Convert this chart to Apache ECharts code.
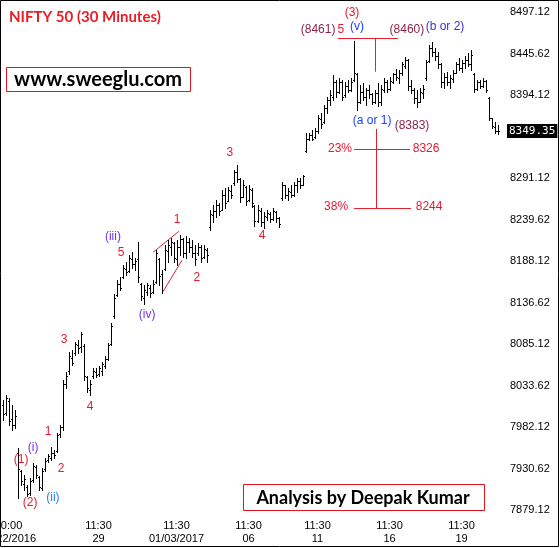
<!DOCTYPE html>
<html>
<head>
<meta charset="utf-8">
<script src="https://cdn.jsdelivr.net/npm/echarts@6/dist/echarts.min.js"></script>
<style>
html, body { margin: 0; padding: 0; background: #fff; }
#chartDiv { width: 560px; height: 548px; }
</style>
</head>
<body>
<div id="chartDiv"></div>
<script>
// 30 minute bars: [open, high, low, close]
const bars = [
    [8010, 8016, 7991, 7998], [7999, 8022, 7997, 8018], [8015, 8018, 7985, 7990], [7992, 8009, 7978, 7984],
    [7985, 8003, 7981, 7996], [7950, 7956, 7894, 7930], [7928, 7929, 7910, 7915], [7912, 7922, 7904, 7918],
    [7908, 7910, 7896, 7899], [7900, 7919, 7898, 7915], [7916, 7937, 7914, 7934], [7932, 7935, 7919, 7922],
    [7920, 7921, 7904, 7908], [7906, 7931, 7904, 7928], [7930, 7944, 7928, 7940], [7941, 7948, 7939, 7946],
    [7944, 7957, 7941, 7950], [7950, 7954, 7944, 7947], [7952, 7975, 7951, 7972], [7973, 7985, 7970, 7982],
    [7982, 8040, 7978, 8035], [8036, 8050, 8031, 8045], [8052, 8075, 8048, 8070], [8068, 8078, 8059, 8062],
    [8074, 8088, 8072, 8085], [8084, 8090, 8074, 8080], [8082, 8100, 8075, 8098], [8083, 8085, 8040, 8045],
    [8044, 8046, 8025, 8030], [8028, 8040, 8022, 8035], [8045, 8055, 8043, 8052], [8050, 8055, 8044, 8047],
    [8048, 8058, 8046, 8055], [8052, 8063, 8047, 8060], [8058, 8070, 8055, 8066], [8066, 8086, 8065, 8084],
    [8085, 8111, 8084, 8108], [8120, 8147, 8118, 8142], [8146, 8164, 8145, 8160], [8160, 8168, 8152, 8155],
    [8168, 8183, 8167, 8180], [8178, 8187, 8171, 8174], [8176, 8196, 8174, 8192], [8190, 8199, 8180, 8185],
    [8185, 8192, 8177, 8188], [8190, 8212, 8162, 8168], [8160, 8161, 8140, 8145], [8142, 8158, 8135, 8152],
    [8150, 8161, 8146, 8158], [8155, 8158, 8143, 8148], [8150, 8164, 8149, 8160], [8162, 8202, 8161, 8198],
    [8190, 8192, 8158, 8170], [8172, 8177, 8149, 8152], [8178, 8208, 8177, 8202], [8200, 8214, 8187, 8208],
    [8206, 8217, 8196, 8212], [8210, 8212, 8187, 8192], [8190, 8214, 8183, 8205], [8205, 8220, 8196, 8215],
    [8215, 8217, 8193, 8198], [8198, 8219, 8192, 8212], [8212, 8217, 8199, 8205], [8205, 8214, 8193, 8198],
    [8198, 8208, 8183, 8190], [8198, 8211, 8196, 8206], [8205, 8208, 8187, 8192], [8193, 8208, 8192, 8203],
    [8202, 8204, 8187, 8195], [8230, 8251, 8227, 8246], [8245, 8257, 8236, 8250], [8250, 8264, 8243, 8258],
    [8257, 8260, 8245, 8250], [8252, 8276, 8251, 8270], [8270, 8279, 8254, 8260], [8262, 8280, 8262, 8276],
    [8275, 8283, 8266, 8270], [8285, 8301, 8283, 8298], [8298, 8307, 8286, 8290], [8290, 8291, 8261, 8268],
    [8268, 8289, 8267, 8282], [8280, 8281, 8257, 8262], [8264, 8283, 8262, 8278], [8276, 8279, 8255, 8260],
    [8256, 8258, 8232, 8238], [8238, 8257, 8236, 8252], [8250, 8254, 8232, 8236], [8236, 8249, 8229, 8244],
    [8243, 8251, 8239, 8248], [8247, 8249, 8236, 8240], [8240, 8254, 8239, 8250], [8249, 8250, 8236, 8242],
    [8242, 8243, 8230, 8234], [8266, 8286, 8264, 8282], [8282, 8283, 8266, 8270], [8270, 8279, 8264, 8275],
    [8274, 8283, 8267, 8270], [8270, 8286, 8269, 8283], [8283, 8291, 8274, 8288], [8288, 8291, 8279, 8282],
    [8283, 8295, 8282, 8293], [8325, 8347, 8323, 8340], [8340, 8347, 8338, 8344], [8344, 8351, 8338, 8340],
    [8342, 8353, 8341, 8350], [8350, 8369, 8347, 8365], [8364, 8372, 8353, 8358], [8360, 8382, 8359, 8378],
    [8378, 8392, 8372, 8388], [8388, 8400, 8382, 8394], [8392, 8419, 8388, 8410], [8410, 8413, 8392, 8398],
    [8398, 8415, 8397, 8410], [8410, 8413, 8388, 8392], [8394, 8410, 8392, 8405], [8405, 8413, 8398, 8400],
    [8400, 8415, 8399, 8410], [8413, 8461, 8412, 8422], [8420, 8421, 8375, 8385], [8386, 8406, 8384, 8398],
    [8398, 8409, 8388, 8392], [8392, 8403, 8382, 8400], [8400, 8406, 8390, 8395], [8395, 8397, 8383, 8386],
    [8386, 8400, 8384, 8396], [8396, 8409, 8381, 8385], [8385, 8406, 8382, 8402], [8400, 8415, 8398, 8410],
    [8410, 8413, 8398, 8402], [8402, 8416, 8400, 8412], [8410, 8422, 8409, 8420], [8420, 8427, 8413, 8416],
    [8415, 8425, 8409, 8422], [8422, 8435, 8419, 8432], [8430, 8441, 8428, 8438], [8438, 8439, 8400, 8405],
    [8405, 8413, 8397, 8400], [8400, 8403, 8384, 8390], [8390, 8400, 8379, 8385], [8386, 8403, 8385, 8398],
    [8396, 8406, 8390, 8402], [8415, 8438, 8413, 8435], [8436, 8456, 8435, 8452], [8452, 8460, 8443, 8448],
    [8448, 8452, 8438, 8442], [8442, 8447, 8428, 8432], [8432, 8434, 8404, 8410], [8410, 8421, 8403, 8416],
    [8416, 8423, 8406, 8410], [8410, 8419, 8403, 8415], [8414, 8425, 8410, 8422], [8422, 8435, 8421, 8432],
    [8432, 8440, 8425, 8428], [8428, 8438, 8423, 8434], [8434, 8443, 8428, 8438], [8438, 8446, 8430, 8432],
    [8432, 8450, 8425, 8444], [8420, 8421, 8398, 8402], [8402, 8413, 8400, 8410], [8410, 8413, 8403, 8405],
    [8405, 8415, 8404, 8412], [8412, 8413, 8398, 8400], [8390, 8392, 8363, 8366], [8365, 8365, 8353, 8356],
    [8355, 8361, 8347, 8350], [8350, 8357, 8346, 8349.35]
];

// time axis labels (bar index -> text)
const tickIndex = [2, 32, 58, 82, 105, 129, 153];
const tickText = ['10:00\n12/22/2016', '11:30\n29', '11:30\n01/03/2017', '11:30\n06', '11:30\n11', '11:30\n16', '11:30\n19'];

// price scale
const priceMin = 7879.12;
const priceMax = 8497.12;
const priceStep = 51.5;
const lastPrice = 8349.35;

// wave counts: [text, bar position, price, colour key]
const waveNotes = [
    ['(3)', 116.5, 8496, 'red'], ['5', 112.8, 8475, 'red'], ['(v)', 118.2, 8479, 'blue'],
    ['(8461)', 105.2, 8475, 'maroon'], ['(8460)', 134.8, 8475, 'maroon'], ['(b or 2)', 147.5, 8479, 'indigo'],
    ['(a or 1)', 123.2, 8362, 'blue'], ['(8383)', 136.5, 8356, 'maroon'],
    ['23%', 112.5, 8328, 'red'], ['8326', 141.2, 8328, 'red'],
    ['38%', 111.2, 8255, 'red'], ['8244', 142.2, 8255, 'red'],
    ['3', 75.8, 8323, 'red'], ['4', 86.5, 8219, 'red'], ['1', 58.2, 8240, 'red'], ['2', 64.8, 8167, 'red'],
    ['5', 39.5, 8199, 'red'], ['(iii)', 36.8, 8218, 'purple'], ['(iv)', 48.2, 8122, 'purple'],
    ['3', 20.5, 8091, 'red'], ['4', 29.2, 8007, 'red'], ['1', 15.2, 7976, 'red'], ['2', 19.5, 7931, 'red'],
    ['(i)', 10.2, 7956, 'purple'], ['(1)', 6.2, 7942, 'red'], ['(ii)', 16.8, 7894, 'sky'],
    ['(2)', 9.2, 7888, 'red'], ['(7893)', 9.2, 7869, 'maroon']
];

// drawn lines: retracement marker and the small wedge
const noteLines = [
    [[111.8, 8465], [131.8, 8465]],
    [[124.2, 8465], [124.2, 8423]],
    [[124.5, 8352], [124.5, 8253]],
    [[117.2, 8327], [135.8, 8327]],
    [[117.2, 8253], [136.2, 8253]],
    [[50.2, 8199], [58.8, 8225]],
    [[53.5, 8150], [59.8, 8189]]
];

const NOTE_COLORS = {
    red: '#e8182e',
    maroon: '#8c2448',
    blue: '#2040ff',
    indigo: '#3c2ee0',
    purple: '#7a30f0',
    sky: '#2a80ff'
};

const categories = bars.map((b, i) => {
    const k = tickIndex.indexOf(i);
    return k >= 0 ? tickText[k] : '';
});

// OHLC bar: 1px stem, open tick on the left, close tick on the right
function renderBar(params, api) {
    const i = api.value(0);
    const x = Math.round(api.coord([i, priceMin])[0]);
    const yo = Math.round(api.coord([i, api.value(1)])[1]);
    const yh = Math.round(api.coord([i, api.value(2)])[1]);
    const yl = Math.round(api.coord([i, api.value(3)])[1]);
    const yc = Math.round(api.coord([i, api.value(4)])[1]);
    const style = { fill: '#000' };
    return {
        type: 'group',
        children: [
            { type: 'rect', shape: { x: x, y: yh, width: 1, height: Math.max(1, yl - yh + 1) }, style: style },
            { type: 'rect', shape: { x: x - 1, y: yo, width: 1, height: 1 }, style: style },
            { type: 'rect', shape: { x: x + 1, y: yc, width: 1, height: 1 }, style: style }
        ]
    };
}

const chartDom = document.getElementById('chartDiv');
const myChart = echarts.init(chartDom, null, { renderer: 'canvas' });

const option = {
    backgroundColor: '#fff',
    animation: false,
    title: {
        text: 'NIFTY 50 (30 Minutes)',
        left: 4,
        top: 5,
        textStyle: { color: '#ed1c24', fontSize: 15, fontWeight: 'bold', fontFamily: 'Lato' }
    },
    grid: { left: 1, right: 61, top: 12, bottom: 38, containLabel: false, outerBoundsMode: 'none' },
    xAxis: [
        {
            type: 'category',
            data: categories,
            boundaryGap: true,
            axisLine: { show: false },
            axisTick: { show: false },
            splitLine: { show: false },
            axisLabel: {
                interval: (idx) => tickIndex.indexOf(idx) >= 0,
                color: '#000',
                fontSize: 11,
                lineHeight: 13,
                margin: 9,
                fontFamily: 'Liberation Sans'
            }
        },
        {
            type: 'value',
            min: -0.5,
            max: bars.length - 0.5,
            show: false
        }
    ],
    yAxis: {
        type: 'value',
        position: 'right',
        min: priceMin,
        max: priceMax,
        interval: priceStep,
        scale: true,
        axisLine: { show: false },
        axisTick: { show: false },
        splitLine: { show: false },
        axisLabel: {
            margin: 11,
            color: '#000',
            fontSize: 11,
            fontFamily: 'Liberation Sans',
            // the last-price box hides the tick right under it
            formatter: (v) => Math.abs(v - lastPrice) < 10 ? '' : v.toFixed(2)
        }
    },
    series: [
        {
            name: 'NIFTY 50',
            type: 'custom',
            xAxisIndex: 0,
            yAxisIndex: 0,
            renderItem: renderBar,
            encode: { x: 0, y: [1, 2, 3, 4] },
            data: bars.map((b, i) => [i, b[0], b[1], b[2], b[3]]),
            z: 3
        },
        {
            name: 'notes',
            type: 'scatter',
            xAxisIndex: 1,
            yAxisIndex: 0,
            symbolSize: 1,
            silent: true,
            itemStyle: { color: 'rgba(0,0,0,0)', opacity: 1 },
            label: {
                show: true,
                position: 'inside',
                formatter: '{b}',
                fontSize: 12,
                opacity: 1,
                fontFamily: 'Liberation Sans'
            },
            data: waveNotes.map(n => ({
                name: n[0],
                value: [n[1], n[2]],
                label: { color: NOTE_COLORS[n[3]] }
            })),
            z: 4
        },
        {
            name: 'lines',
            type: 'lines',
            coordinateSystem: 'cartesian2d',
            xAxisIndex: 1,
            yAxisIndex: 0,
            silent: true,
            lineStyle: { color: '#e3202e', width: 1, opacity: 1 },
            data: noteLines.map(c => ({ coords: c })),
            z: 4
        },
        {
            name: 'last',
            type: 'line',
            xAxisIndex: 1,
            yAxisIndex: 0,
            data: [],
            silent: true,
            markLine: {
                silent: true,
                symbol: 'none',
                lineStyle: { color: 'rgba(0,0,0,0)', width: 0 },
                label: {
                    show: true,
                    position: 'end',
                    distance: 8,
                    formatter: () => lastPrice.toFixed(2),
                    color: '#fff',
                    backgroundColor: '#000',
                    padding: [2, 2, 1, 2],
                    fontSize: 11,
                    fontFamily: 'DejaVu Sans Mono'
                },
                data: [{ yAxis: lastPrice }]
            },
            z: 5
        }
    ],
    graphic: [
        {
            type: 'rect',
            shape: { x: 0.5, y: 0.5, width: 558, height: 546 },
            style: { fill: 'none', stroke: '#000', lineWidth: 1 },
            silent: true
        },
        {
            type: 'rect',
            shape: { x: 6.5, y: 67.5, width: 184, height: 24 },
            style: { fill: '#fff', stroke: '#e4141e', lineWidth: 1 },
            silent: true
        },
        {
            type: 'text',
            x: 98, y: 80,
            style: {
                text: 'www.sweeglu.com', fill: '#000', font: 'bold 20px Lato',
                align: 'center', verticalAlign: 'middle'
            },
            silent: true
        },
        {
            type: 'rect',
            shape: { x: 243.5, y: 484.5, width: 241, height: 26 },
            style: { fill: '#fff', stroke: '#e4141e', lineWidth: 1 },
            silent: true
        },
        {
            type: 'text',
            x: 363, y: 498,
            style: {
                text: 'Analysis by Deepak Kumar', fill: '#000', font: 'bold 18px Lato',
                align: 'center', verticalAlign: 'middle'
            },
            silent: true
        }
    ]
};

myChart.setOption(option);
</script>
</body>
</html>
